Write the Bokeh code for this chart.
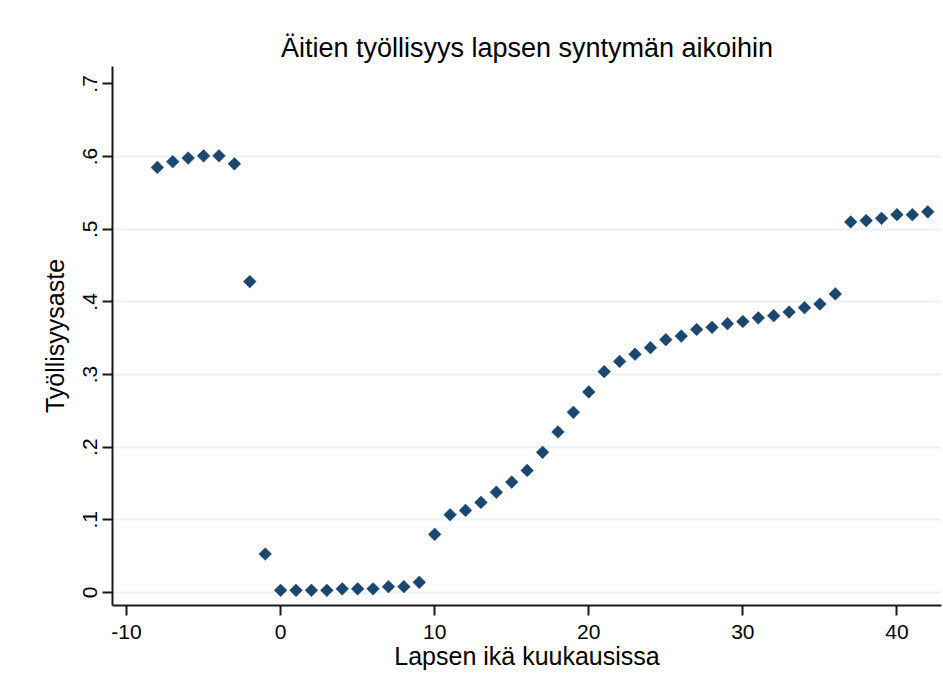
import numpy as np
from bokeh.plotting import figure
from bokeh.models import FixedTicker, Range1d, ColumnDataSource
from bokeh.embed import file_html
from bokeh.resources import INLINE

# --- data ---
months = list(range(-8, 43))
employment = [
    0.585, 0.593, 0.598, 0.601, 0.601, 0.590, 0.428, 0.053,
    0.003, 0.003, 0.003, 0.003, 0.005, 0.005, 0.005, 0.008, 0.008, 0.014,
    0.080, 0.107, 0.113, 0.124, 0.138, 0.152, 0.168, 0.193, 0.221, 0.248,
    0.276, 0.304, 0.318, 0.328, 0.337, 0.348, 0.353, 0.362, 0.365, 0.370,
    0.373, 0.378, 0.381, 0.386, 0.392, 0.397, 0.411,
    0.510, 0.512, 0.515, 0.520, 0.520, 0.524,
]
x_ticks = [-10, 0, 10, 20, 30, 40]
x_tick_labels = ["-10", "0", "10", "20", "30", "40"]
y_ticks = [0.0, 0.1, 0.2, 0.3, 0.4, 0.5, 0.6, 0.7]
y_tick_labels = ["0", ".1", ".2", ".3", ".4", ".5", ".6", ".7"]
grid_ticks = [0.0, 0.1, 0.2, 0.3, 0.4, 0.5, 0.6]

title_text = "Äitien työllisyys lapsen syntymän aikoihin"
x_label = "Lapsen ikä kuukausissa"
y_label = "Työllisyysaste"

FONT = "Liberation Sans"
MARKER = "#1a476f"
AXIS = "#1a1a1a"

src = ColumnDataSource(dict(x=months, y=employment))

p = figure(
    width=943, height=690,
    output_backend="svg", toolbar_location=None,
    x_range=Range1d(-10.91, 42.89), y_range=Range1d(-0.0179, 0.724),
    min_border_left=112, min_border_right=2, min_border_top=66, min_border_bottom=85,
    title=title_text,
)
p.outline_line_color = None
p.background_fill_color = "white"
p.border_fill_color = "white"

p.title.text_font = FONT
p.title.text_font_size = "27px"
p.title.text_font_style = "normal"
p.title.text_color = "#000000"
p.title.align = "center"
p.title.standoff = 7

p.scatter("x", "y", source=src, marker="square", size=9, angle=np.pi / 4,
          fill_color=MARKER, line_color=MARKER, line_width=0.5)

# axes
xa = p.xaxis[0]
xa.ticker = FixedTicker(ticks=x_ticks)
xa.major_label_overrides = {t: l for t, l in zip(x_ticks, x_tick_labels)}
xa.axis_label = x_label
ya = p.yaxis[0]
ya.ticker = FixedTicker(ticks=y_ticks)
ya.major_label_overrides = {t: l for t, l in zip(y_ticks, y_tick_labels)}
ya.major_label_orientation = "vertical"
ya.axis_label = y_label

for ax in (xa, ya):
    ax.axis_line_color = AXIS
    ax.axis_line_width = 2
    ax.major_tick_line_color = AXIS
    ax.major_tick_line_width = 2
    ax.major_tick_in = 0
    ax.major_tick_out = 10
    ax.minor_tick_line_color = None
    ax.major_label_text_font = FONT
    ax.major_label_text_font_size = "21px"
    ax.major_label_text_color = "#000000"
    ax.axis_label_text_font = FONT
    ax.axis_label_text_font_size = "25px"
    ax.axis_label_text_font_style = "normal"
    ax.axis_label_text_color = "#000000"

xa.major_label_standoff = 9
xa.axis_label_standoff = 0
ya.major_label_standoff = 5
ya.axis_label_standoff = 12

p.xgrid.grid_line_color = None
p.ygrid.ticker = FixedTicker(ticks=grid_ticks)
p.ygrid.grid_line_color = "#eaf2f3"
p.ygrid.grid_line_width = 2

open("out.html", "w").write(file_html(p, INLINE))
